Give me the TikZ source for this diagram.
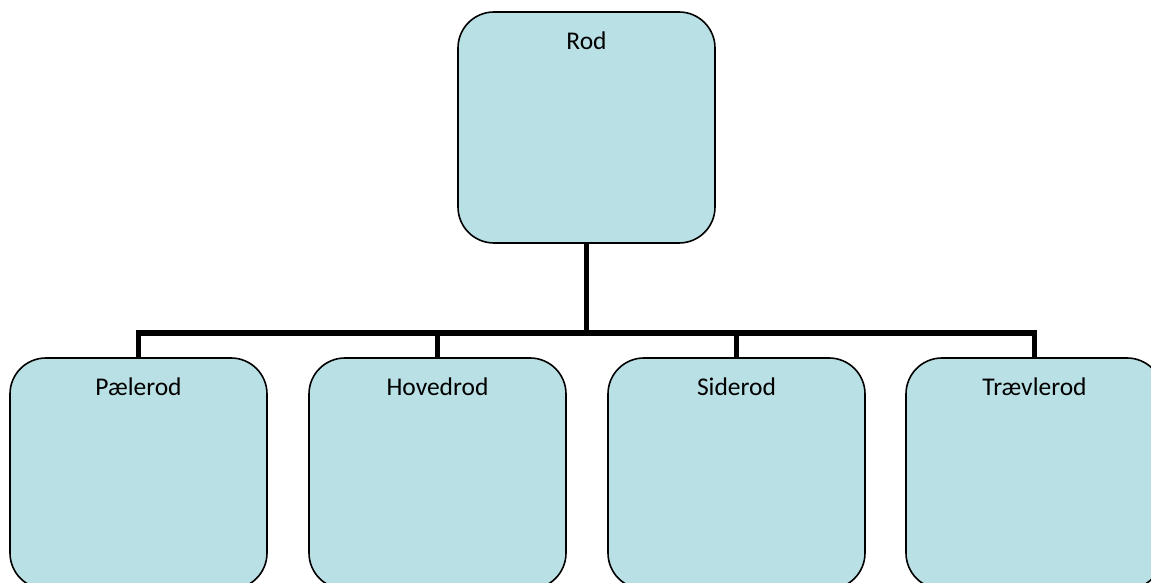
\documentclass[tikz,border=0pt]{standalone}
\usepackage{fontspec}
\setmainfont{Carlito}
\usepackage{xcolor}
\usepackage{tikz}
\usetikzlibrary{calc}
\definecolor{boxfill}{RGB}{185,224,228}

\begin{document}
\begin{tikzpicture}[x=1pt,y=1pt,
  rootbox/.style={draw,line width=1.6pt,fill=boxfill,rounded corners=36pt,
    minimum width=257pt,inner sep=0pt,text height=38pt,text depth=193pt,
    font=\fontsize{25.5}{30}\selectfont},
  link/.style={line width=5.5pt}]
  \useasboundingbox (0,0) rectangle (1151,583);
  \clip (0,0) rectangle (1151,583);
  % boxes
  \coordinate (bar) at (586.5,250);
  \node[rootbox] (rod) at (586.5,455.5) {Rod};
  \node[rootbox] (pael) at (138.5,109.5) {Pælerod};
  \node[rootbox] (hoved) at (437.5,109.5) {Hovedrod};
  \node[rootbox] (side) at (736.5,109.5) {Siderod};
  \node[rootbox] (traev) at (1034.5,109.5) {Trævlerod};
  % connectors
  \draw[link] (rod.south) -- (bar);
  \draw[link] (pael.north) -- (pael.north |- bar) -- (traev.north |- bar) -- (traev.north);
  \draw[link] (hoved.north) -- (hoved.north |- bar);
  \draw[link] (side.north) -- (side.north |- bar);
\end{tikzpicture}
\end{document}
